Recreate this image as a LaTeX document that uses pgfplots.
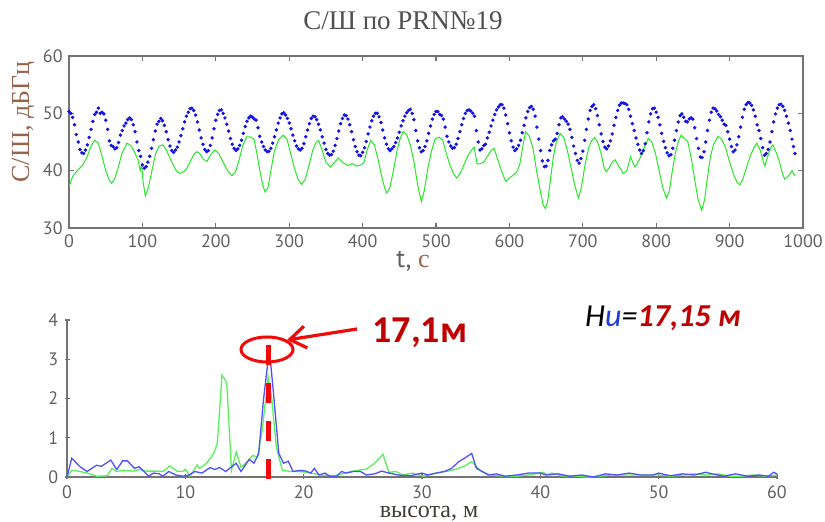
\documentclass[border=0pt]{standalone}
\usepackage{fontspec}
\setmainfont{Liberation Serif}
\newfontfamily\tickfont{PT Sans}
\newfontfamily\calfont{Carlito}
\usepackage{pgfplots}
\pgfplotsset{compat=1.18}
\usetikzlibrary{arrows.meta}
\definecolor{axgray}{RGB}{115,115,115}
\definecolor{tickgray}{RGB}{95,95,95}
\definecolor{titlegray}{RGB}{80,80,80}
\definecolor{xlabgray}{RGB}{65,60,55}
\definecolor{labbrown}{RGB}{150,100,75}
\definecolor{darkred}{RGB}{192,0,0}
\definecolor{annred}{RGB}{240,10,10}
\definecolor{dotblue}{RGB}{20,20,230}
\definecolor{lgreen}{RGB}{40,230,40}
\definecolor{bblue}{RGB}{80,80,255}
\definecolor{bgreen}{RGB}{90,240,90}
\definecolor{hblue}{RGB}{30,60,220}
\begin{document}
\begin{tikzpicture}
\path[use as bounding box] (0,0) rectangle (412.5pt,261pt);
\pgfplotsset{
  every axis/.append style={
    scale only axis,
    axis line style={axgray, line width=0.7pt},
    tick style={axgray, line width=0.6pt},
    major tick length=2.5pt,
    tick align=inside,
    ticklabel style={font=\tickfont\fontsize{9}{10}\selectfont, text=tickgray, inner sep=1pt},
    xticklabel style={yshift=-2pt},
    yticklabel style={xshift=-2pt},
    /pgf/number format/assume math mode=true,
    /pgf/number format/1000 sep={},
  },
  bdots/.style={only marks, mark=*, mark size=0.65pt, dotblue, mark options={draw=dotblue, fill=dotblue}},
}
% ---------------- top axis ----------------
\begin{axis}[
  at={(34.5pt,147pt)}, anchor=south west,
  width=367pt, height=86pt,
  xmin=0, xmax=1000, ymin=30, ymax=60,
  xtick={0,100,...,1000}, ytick={30,40,50,60},
]
\addplot[bdots] table {
t y
0 50.3
5 49.3
10 46.3
15 43.7
20 43.0
25 44.5
30 47.2
35 49.8
40 50.9
45 50.2
50 48.8
55 45.2
60 44.2
65 44.0
70 46.2
75 47.8
80 48.9
85 48.9
90 46.8
95 43.5
100 41.0
105 40.7
110 42.5
115 45.4
120 48.1
125 49.1
130 47.9
135 45.4
140 43.5
145 43.6
150 45.0
155 47.3
160 49.5
165 50.8
170 50.5
175 48.5
180 45.7
185 43.7
190 43.5
195 45.7
200 48.8
205 50.5
210 50.0
215 48.1
220 45.6
225 43.9
230 43.8
235 45.3
240 47.7
245 49.2
250 49.3
255 48.8
260 46.0
265 44.2
270 43.3
275 43.9
280 45.9
285 48.3
290 49.9
295 49.7
300 48.3
305 46.2
310 44.3
315 43.6
320 44.7
325 47.1
330 49.1
335 49.4
340 48.1
345 45.9
350 43.7
355 42.7
360 43.4
365 45.6
370 48.2
375 49.7
380 49.0
385 46.8
390 44.2
395 42.7
400 43.2
405 45.1
410 47.6
415 49.5
420 50.0
425 48.4
430 45.7
435 43.8
440 43.8
445 44.9
450 46.7
455 48.7
460 50.1
465 50.7
470 48.9
475 45.2
480 43.3
485 44.2
490 46.5
495 49.0
500 50.3
505 49.8
510 49.0
515 46.0
520 44.3
525 44.0
530 45.6
535 48.0
540 50.0
545 50.6
550 50.0
555 47.0
560 43.6
565 44.4
570 45.7
575 47.8
580 49.8
585 51.1
590 51.5
595 49.7
600 46.6
605 44.1
610 43.8
615 45.3
620 47.9
625 50.3
630 51.2
635 49.5
640 45.5
645 41.7
650 40.8
655 43.5
660 45.2
665 46.5
670 49.2
675 49.0
680 48.1
685 45.8
690 43.0
695 41.3
700 43.4
705 47.2
710 50.5
715 51.5
720 49.6
725 46.4
730 44.1
735 44.3
740 46.4
745 49.3
750 51.4
755 51.8
760 51.5
765 49.5
770 47.0
775 44.6
780 43.0
785 44.7
790 48.5
795 50.8
800 50.2
805 48.0
810 45.1
815 43.1
820 42.8
825 45.3
830 48.5
835 49.9
840 48.6
845 49.0
850 49.0
855 45.6
860 42.4
865 43.3
870 47.0
875 50.2
880 50.8
885 49.8
890 48.8
895 47.9
900 45.5
905 43.3
910 44.5
915 47.6
920 50.7
925 51.9
930 51.4
935 49.5
940 47.0
945 44.0
950 43.0
955 45.0
960 48.5
965 50.9
970 51.6
975 50.5
980 48.3
985 45.5
989 43.0
};
\addplot[bdots] table {
t y
2.5 50.0
7.5 48.0
12.5 45.0
17.5 43.1
22.5 43.6
27.5 45.8
32.5 48.6
37.5 50.2
42.5 50.0
47.5 49.9
52.5 47.2
57.5 44.4
62.5 43.8
67.5 44.9
72.5 47.0
77.5 48.3
82.5 49.2
87.5 48.0
92.5 45.0
97.5 42.5
102.5 40.4
107.5 41.5
112.5 43.9
117.5 46.9
122.5 48.6
127.5 48.7
132.5 46.8
137.5 44.3
142.5 43.2
147.5 44.1
152.5 46.1
157.5 48.5
162.5 50.2
167.5 50.9
172.5 49.7
177.5 47.1
182.5 44.6
187.5 43.3
192.5 44.4
197.5 47.3
202.5 49.8
207.5 50.6
212.5 49.2
217.5 46.9
222.5 44.6
227.5 43.5
232.5 44.4
237.5 46.5
242.5 48.6
247.5 49.5
252.5 49.0
257.5 47.5
262.5 45.0
267.5 43.6
272.5 43.4
277.5 44.8
282.5 47.1
287.5 49.2
292.5 50.1
297.5 49.1
302.5 47.3
307.5 45.2
312.5 43.8
317.5 43.9
322.5 45.9
327.5 48.2
332.5 49.5
337.5 48.9
342.5 47.1
347.5 44.8
352.5 43.0
357.5 42.8
362.5 44.4
367.5 46.9
372.5 49.1
377.5 49.6
382.5 48.0
387.5 45.4
392.5 43.3
397.5 42.6
402.5 44.0
407.5 46.4
412.5 48.7
417.5 50.0
422.5 49.4
427.5 47.1
432.5 44.6
437.5 43.5
442.5 44.2
447.5 45.7
452.5 47.8
457.5 49.5
462.5 50.5
467.5 50.0
472.5 47.0
477.5 44.0
482.5 43.5
487.5 45.2
492.5 47.8
497.5 49.8
502.5 50.3
507.5 49.6
512.5 47.6
517.5 45.0
522.5 43.9
527.5 44.6
532.5 46.8
537.5 49.1
542.5 50.5
547.5 50.4
552.5 49.5
557.5 45.0
562.5 43.8
567.5 44.6
572.5 46.7
577.5 48.8
582.5 50.6
587.5 51.5
592.5 50.9
597.5 48.2
602.5 45.2
607.5 43.5
612.5 44.4
617.5 46.6
622.5 49.2
627.5 51.0
632.5 50.7
637.5 47.6
642.5 43.5
647.5 40.7
652.5 41.8
657.5 44.5
662.5 45.5
667.5 48.0
672.5 49.4
677.5 48.6
682.5 47.2
687.5 44.3
692.5 41.8
697.5 42.1
702.5 45.3
707.5 49.0
712.5 51.2
717.5 50.8
722.5 48.0
727.5 45.1
732.5 43.8
737.5 45.2
742.5 47.9
747.5 50.5
752.5 51.8
757.5 51.7
762.5 50.7
767.5 48.2
772.5 45.7
777.5 43.6
782.5 43.5
787.5 46.6
792.5 49.9
797.5 50.9
802.5 49.3
807.5 46.5
812.5 44.0
817.5 42.6
822.5 43.9
827.5 47.0
832.5 49.6
837.5 49.3
842.5 48.5
847.5 49.2
852.5 47.5
857.5 43.9
862.5 42.3
867.5 45.0
872.5 48.8
877.5 50.9
882.5 50.4
887.5 49.4
892.5 48.1
897.5 46.8
902.5 44.2
907.5 43.6
912.5 45.9
917.5 49.3
922.5 51.5
927.5 51.8
932.5 50.6
937.5 48.0
942.5 45.6
947.5 42.7
952.5 43.7
957.5 46.8
962.5 49.9
967.5 51.5
972.5 51.2
977.5 49.5
982.5 47.0
987 44.2
};
\addplot[lgreen, line width=0.5pt] table {
t y
0 37.2
5 39.0
12 40.1
19 41.0
25 42.5
30 44.3
35 45.3
40 44.8
45 42.5
50 40.0
55 38.3
58 37.8
62 38.5
67 40.5
72 43.0
79 44.8
85 44.3
90 43.0
94 41.9
97 40.0
99 41.0
101 38.0
104 35.6
108 37.0
113 40.0
118 43.0
123 44.3
128 44.5
133 43.5
140 41.5
146 40.0
151 39.5
156 39.8
160 40.3
165 41.5
170 42.8
174 43.3
178 43.0
183 42.0
188 41.6
193 42.8
199 43.6
204 43.0
210 41.5
216 40.0
222 39.1
227 39.8
232 42.0
237 44.5
242 45.9
247 45.9
252 45.5
256 43.0
260 40.0
264 37.5
267 36.3
271 37.0
275 40.0
280 43.5
286 45.5
292 46.2
297 45.5
302 43.0
307 40.5
312 38.5
317 37.6
322 38.5
327 41.0
332 43.5
336 44.8
340 45.3
345 43.5
350 41.5
356 40.6
362 41.5
367 42.2
372 41.5
380 40.9
386 41.2
392 40.8
398 41.0
402 41.5
406 43.5
411 45.3
416 44.5
421 42.0
426 39.0
430 37.0
433 36.1
437 37.0
442 40.0
447 43.5
451 45.5
455 46.8
460 46.3
465 44.5
470 41.5
475 37.5
480 34.6
484 36.5
489 40.5
494 43.5
499 45.6
504 45.8
509 45.4
514 43.0
519 41.0
524 39.5
528 38.7
533 39.5
538 41.0
543 42.5
548 43.5
552 44.1
556 41.2
560 41.2
565 41.5
570 42.5
575 43.5
579 43.9
584 42.0
589 40.0
595 38.1
600 38.7
605 39.2
610 39.8
614 41.0
618 44.0
622 46.8
627 46.0
632 44.0
637 40.0
642 36.5
646 34.0
649 33.4
652 34.5
656 38.5
660 42.5
664 45.0
669 46.5
674 45.8
679 43.5
684 40.5
689 37.5
694 35.2
698 37.0
703 41.0
708 44.0
712 45.2
716 45.8
720 45.0
725 43.0
729 40.5
732 39.8
736 40.5
740 41.5
744 41.9
748 41.0
751 40.4
755 39.5
760 40.0
765 42.4
771 40.6
777 41.9
782 43.5
789 45.6
794 45.0
799 43.0
804 40.0
809 37.0
814 35.2
818 36.5
822 40.0
826 43.0
830 45.0
834 46.2
839 45.5
843 45.1
848 42.0
853 38.0
857 35.0
862 33.1
866 35.0
870 39.0
874 42.5
878 44.5
884 46.0
889 45.5
894 44.2
900 41.5
905 39.5
910 38.0
914 37.5
918 38.5
923 40.5
928 42.5
933 44.0
937 44.8
942 43.5
946 41.5
948 40.8
952 42.5
956 44.0
959 44.5
964 43.0
968 41.5
972 39.5
975 38.5
980 39.0
985 40.0
989 39.1
};
\end{axis}
% ---------------- bottom axis ----------------
\begin{axis}[
  at={(33.5pt,22.5pt)}, anchor=south west,
  width=355pt, height=78.5pt,
  axis lines=left, axis line style={-},
  xmin=0, xmax=60, ymin=0, ymax=4,
  xtick={0,10,...,60}, ytick={0,1,2,3,4},
  clip=false,
]
\addplot[bgreen, line width=0.65pt] table {
x y
0 0
0.4 0.17
1.1 0.14
1.7 0.10
2.5 0.02
3.4 0.03
3.8 0.22
4.2 0.14
4.8 0.17
5.6 0.15
6.2 0.19
6.7 0.15
7.6 0.15
8.1 0.14
8.7 0.28
9.3 0.15
9.8 0.14
10.0 0.20
10.4 0.02
11.0 0.31
11.2 0.22
11.8 0.35
12.4 0.60
12.7 0.85
13.1 2.60
13.5 2.40
13.9 0.17
14.3 0.64
14.7 0.25
15.2 0.38
15.7 0.55
16.1 0.50
16.5 1.20
17.0 2.55
17.3 2.00
17.7 0.75
18.2 0.17
18.9 0.14
19.7 0.14
20.6 0.10
21.5 0.05
22.5 0.03
23.3 0.08
24.0 0.14
24.6 0.17
25.3 0.20
26.0 0.35
26.7 0.58
27.2 0.12
27.8 0.14
28.4 0.05
29.2 0.10
30.1 0.02
31.2 0.10
32.2 0.15
32.9 0.20
33.6 0.28
34.2 0.39
35.0 0.14
35.8 0.05
37 0.02
38 0.02
39 0.05
40.2 0.12
40.6 0.06
41.0 0.10
41.7 0.03
43 0.02
44 0.0
45 0.02
46 0.05
47 0.05
48 0.05
49 0.05
50 0.05
51 0.02
52 0.05
53 0.08
54 0.05
55 0.08
56 0.02
57 0.02
58 0.05
59 0.02
60 0.05
};
\addplot[bblue, line width=0.65pt] table {
x y
0 0.0
0.4 0.48
1.1 0.26
1.7 0.14
2.5 0.30
2.9 0.27
3.7 0.43
4.2 0.19
4.7 0.41
5.1 0.41
5.7 0.22
6.1 0.26
6.4 0.17
6.9 0.02
7.3 0.10
7.8 0.08
8.1 0.02
8.6 0.14
9.2 0.05
9.8 0.02
10.3 0.05
10.8 0.14
11.4 0.10
12.1 0.24
12.5 0.19
12.9 0.24
13.4 0.14
14.3 0.35
14.7 0.14
15.4 0.45
15.8 0.35
16.2 0.60
16.6 1.96
17.1 3.24
17.4 2.30
17.9 0.60
18.3 0.35
18.7 0.40
19.1 0.14
19.7 0.17
20.2 0.15
20.6 0.10
20.9 0.22
21.3 0.05
21.8 0.10
22.2 0.02
22.8 0.02
23.2 0.14
23.6 0.10
24.2 0.14
24.8 0.14
25.3 0.05
26.0 0.08
26.6 0.15
27.2 0.10
28.0 0.05
29.0 0.03
30.0 0.10
30.5 0.05
31.2 0.10
31.9 0.14
32.5 0.22
33.1 0.39
33.7 0.50
34.2 0.60
34.6 0.22
35.1 0.14
35.6 0.05
36.3 0.08
37 0.02
38 0.05
39 0.10
40 0.10
40.5 0.05
41.5 0.08
42.5 0.02
43.5 0.05
44.5 0.0
45.5 0.08
46.5 0.05
47.5 0.10
48.5 0.05
49.5 0.05
50 0.10
51 0.03
52 0.08
53 0.05
54 0.12
54.5 0.08
55.5 0.02
56.5 0.08
57.5 0.02
58.5 0.05
59.3 0.02
59.7 0.12
60 0.08
};
\draw[annred, line width=2.6pt, dash pattern=on 10pt off 9pt] (axis cs:17,3.36) -- (axis cs:17,-0.08);
\end{axis}
% ---------------- texts and annotations ----------------
\node[font=\fontsize{13.5}{15}\selectfont, text=titlegray] at (201.5pt,250.5pt) {С/Ш по PRN№19};
\node[font=\fontsize{13}{15}\selectfont, text=labbrown, rotate=90] at (11.5pt,200pt) {С/Ш, дБГц};
\node[font=\fontsize{13}{15}\selectfont, anchor=base] at (206.5pt,127pt) {{\tickfont\color{tickgray}t,} {\color{labbrown}с}};
\node[font=\fontsize{12}{14}\selectfont, text=xlabgray, anchor=base, inner sep=0pt] at (214.5pt,2.3pt) {высота, м};
\draw[annred, line width=1.5pt] (133.5pt,86.25pt) ellipse [x radius=13pt, y radius=6.25pt];
\draw[annred, line width=1.6pt, -{Straight Barb[length=8pt, width=11pt, line width=1.6pt]}] (178.5pt,96.5pt) -- (143.5pt,91pt);
\node[font=\calfont\bfseries\fontsize{19}{21}\selectfont, text=darkred] at (210pt,94.5pt) {17,1м};
\node[font=\calfont\itshape\fontsize{16}{18}\selectfont] at (331.5pt,102pt) {H{\color{hblue}и}={\bfseries\color{darkred}17,15 м}};
\end{tikzpicture}
\end{document}
